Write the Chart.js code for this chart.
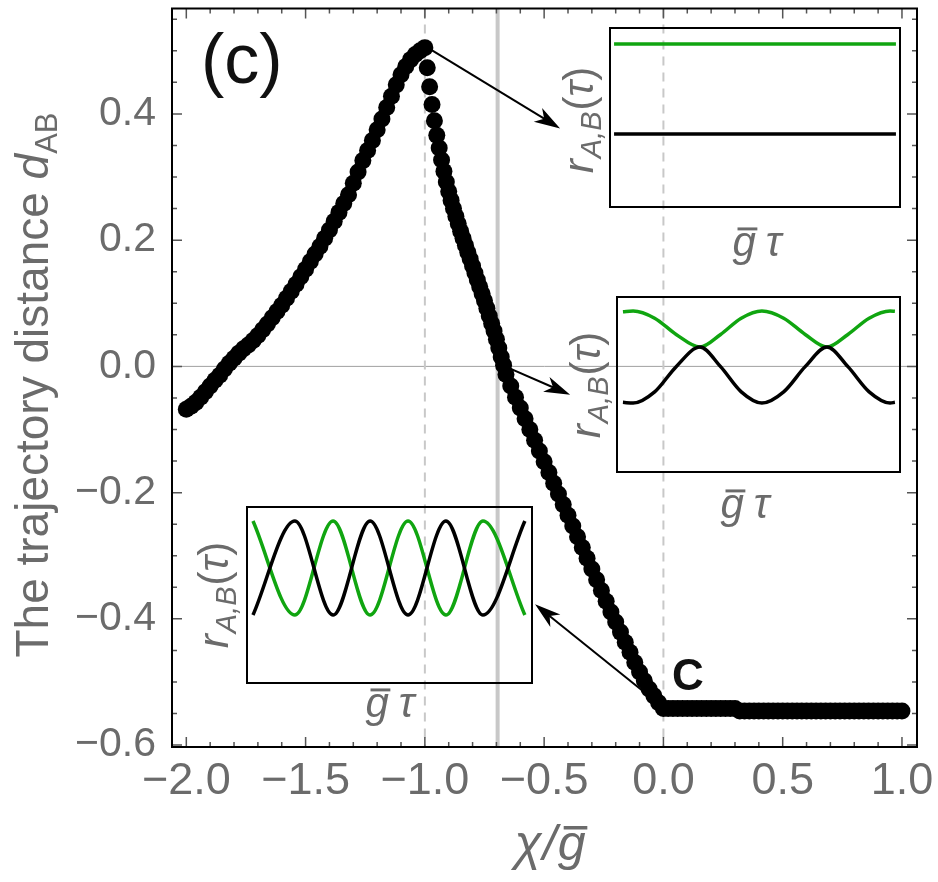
<!DOCTYPE html>
<html>
<head>
<meta charset="utf-8">
<script src="https://cdn.jsdelivr.net/npm/chart.js@4.4.1/dist/chart.umd.min.js"></script>
<style>
  html, body { margin: 0; padding: 0; background: #fff; }
  #wrap { position: relative; width: 938px; height: 882px; }
  #wrap canvas { position: absolute; }
</style>
</head>
<body>
<div id="wrap">
  <canvas id="mainChart" width="938" height="882" style="left:0;top:0"></canvas>
  <canvas id="inset1" width="294" height="183" style="left:608px;top:26px"></canvas>
  <canvas id="inset2" width="287" height="179" style="left:615px;top:295px"></canvas>
  <canvas id="inset3" width="289" height="180" style="left:245px;top:505px"></canvas>
</div>
<script>
// ---------------------------------------------
// data
// ---------------------------------------------
const chiRise = [-2.00,-1.98,-1.96,-1.94,-1.92,-1.90,-1.88,-1.86,-1.84,-1.82,-1.80,-1.78,-1.76,-1.74,-1.72,-1.70,
  -1.68,-1.66,-1.64,-1.62,-1.60,-1.58,-1.56,-1.54,-1.52,-1.50,-1.48,-1.46,-1.44,-1.42,-1.40,-1.38,-1.36,-1.34,
  -1.32,-1.30,-1.28,-1.26,-1.24,-1.22,-1.20,-1.18,-1.16,-1.14,-1.12,-1.10,-1.08,-1.06,-1.04,-1.02,-1.00];
const dRise = [-0.068,-0.063,-0.057,-0.049,-0.040,-0.031,-0.022,-0.014,-0.004,0.005,0.013,0.021,0.028,0.034,0.041,0.049,
  0.058,0.067,0.077,0.087,0.097,0.108,0.119,0.130,0.142,0.154,0.166,0.178,0.190,0.203,0.216,0.230,0.244,0.258,
  0.272,0.290,0.308,0.326,0.342,0.358,0.375,0.392,0.410,0.428,0.446,0.462,0.475,0.486,0.494,0.500,0.505];

const chiFall = [-0.99,-0.98,-0.97,-0.96,-0.95,-0.94,-0.93,-0.92,-0.91,-0.90,-0.89,-0.88,-0.87,-0.86,-0.85,-0.84,
  -0.83,-0.82,-0.81,-0.80,-0.79,-0.78,-0.77,-0.76,-0.75,-0.74,-0.73,-0.72,-0.71,-0.70,-0.69,-0.68,-0.67,
  -0.66,-0.64,-0.62,-0.60,-0.58,-0.56,-0.54,-0.52,-0.50,-0.48,-0.46,-0.44,-0.42,-0.40,-0.38,-0.36,-0.34,
  -0.32,-0.30,-0.28,-0.26,-0.24,-0.22,-0.20,-0.18,-0.16,-0.14,-0.12,-0.10,-0.08,-0.06,-0.04,-0.02,0.00];
const dFall = [0.473,0.443,0.415,0.389,0.366,0.346,0.327,0.309,0.292,0.277,0.263,0.250,0.238,0.226,0.214,0.203,
  0.192,0.181,0.170,0.159,0.148,0.137,0.126,0.115,0.104,0.092,0.080,0.068,0.056,0.043,0.029,0.015,0.002,
  -0.013,-0.031,-0.049,-0.066,-0.083,-0.100,-0.117,-0.134,-0.151,-0.168,-0.185,-0.202,-0.219,-0.236,-0.253,-0.270,-0.287,
  -0.304,-0.321,-0.338,-0.355,-0.372,-0.389,-0.405,-0.421,-0.437,-0.453,-0.469,-0.484,-0.498,-0.511,-0.522,-0.533,-0.542];

const chiFlat = [0.02,0.04,0.06,0.08,0.10,0.12,0.14,0.16,0.18,0.20,0.22,0.24,0.26,0.28,0.30,
  0.32,0.34,0.36,0.38,0.40,0.42,0.44,0.46,0.48,0.50,0.52,0.54,0.56,0.58,0.60,0.62,0.64,0.66,0.68,0.70,
  0.72,0.74,0.76,0.78,0.80,0.82,0.84,0.86,0.88,0.90,0.92,0.94,0.96,0.98,1.00];
const dFlat = [-0.542,-0.542,-0.542,-0.542,-0.542,-0.542,-0.542,-0.542,-0.542,-0.542,-0.542,-0.542,-0.542,-0.542,-0.542,
  -0.546,-0.546,-0.546,-0.546,-0.546,-0.546,-0.546,-0.546,-0.546,-0.546,-0.546,-0.546,-0.546,-0.546,-0.546,-0.546,-0.546,-0.546,-0.546,-0.546,
  -0.546,-0.546,-0.546,-0.546,-0.546,-0.546,-0.546,-0.546,-0.546,-0.546,-0.546,-0.546,-0.546,-0.546,-0.546];

const xTickVals = [-2.0, -1.5, -1.0, -0.5, 0.0, 0.5, 1.0];
const yTickVals = [-0.6, -0.4, -0.2, 0.0, 0.2, 0.4];

// reference lines
const dashedChi = [-1.0, 0.0];
const grayChi = -0.695;

// arrows: [tail chi, tail d, head chi, head d]
const arrows = [
  [-0.98, 0.503, -0.433, 0.377],
  [-0.664, 0.0, -0.391, -0.045],
  [0.005, -0.542, -0.538, -0.377]
];

// insets (tau and r in box units 0..1)
const tau1 = [0.014, 0.986];
const green1 = [0.911, 0.911];
const black1 = [0.408, 0.408];

const tau2 = [0.021, 0.057, 0.133, 0.209, 0.293, 0.366, 0.439, 0.512, 0.589, 0.665, 0.742, 0.816, 0.891, 0.965, 0.982];
const green2 = [0.916, 0.920, 0.879, 0.786, 0.714, 0.786, 0.879, 0.920, 0.879, 0.786, 0.714, 0.786, 0.879, 0.920, 0.918];
const black2 = [0.398, 0.394, 0.458, 0.602, 0.714, 0.602, 0.458, 0.394, 0.458, 0.602, 0.714, 0.602, 0.458, 0.394, 0.398];

const tau3 = [0.021, 0.168, 0.302, 0.432, 0.565, 0.698, 0.828, 0.975];
const green3 = [0.920, 0.386, 0.920, 0.386, 0.920, 0.386, 0.920, 0.386];
const black3 = [0.386, 0.920, 0.386, 0.920, 0.386, 0.920, 0.386, 0.920];

// ---------------------------------------------
// helpers
// ---------------------------------------------
const FONT = '"Liberation Sans", Arial, sans-serif';
const GRAY = '#6b6b6b';
const GREEN = '#10a510';

const toXY = (xs, ys) => xs.map((x, i) => ({ x: x, y: ys[i] }));

function fmt(v) {
    const s = Math.abs(v).toFixed(1);
    return v < -1e-9 ? '\u2212' + s : s;
}

// draws a list of text runs centred on cx at baseline by
function drawRuns(ctx, runs, cx, by) {
    let total = 0;
    runs.forEach(r => { ctx.font = r.font; r.w = ctx.measureText(r.t).width; total += r.w + (r.gap || 0); });
    let x = cx - total / 2;
    runs.forEach(r => {
        ctx.font = r.font;
        ctx.fillText(r.t, x, by + (r.dy || 0));
        if (r.bar) {
            ctx.fillRect(x + r.size * 0.12, by - r.size * 0.68, r.w * 0.85, r.size * 0.07);
        }
        x += r.w + (r.gap || 0);
    });
}

function rLabel(ctx, bx, cy) {
    ctx.save();
    ctx.translate(bx, cy);
    ctx.rotate(-Math.PI / 2);
    ctx.fillStyle = GRAY;
    ctx.textAlign = 'left';
    ctx.textBaseline = 'alphabetic';
    drawRuns(ctx, [
        { t: 'r', font: 'italic 42px ' + FONT, gap: 1 },
        { t: 'A,B', font: 'italic 29px ' + FONT, dy: 8, gap: 1 },
        { t: '(', font: '42px ' + FONT },
        { t: '\u03C4', font: 'italic 42px ' + FONT },
        { t: ')', font: '42px ' + FONT }
    ], 0, 0);
    ctx.restore();
}

function gtLabel(ctx, cx, by) {
    ctx.save();
    ctx.fillStyle = GRAY;
    ctx.textAlign = 'left';
    ctx.textBaseline = 'alphabetic';
    drawRuns(ctx, [
        { t: 'g', font: 'italic 42px ' + FONT, bar: true, size: 42, gap: 10 },
        { t: '\u03C4', font: 'italic 42px ' + FONT }
    ], cx, by);
    ctx.restore();
}

function drawArrow(ctx, x1, y1, x2, y2) {
    const a = Math.atan2(y2 - y1, x2 - x1), L = 26, W = 8;
    const c = Math.cos(a), s = Math.sin(a);
    ctx.beginPath();
    ctx.moveTo(x1, y1);
    ctx.lineTo(x2 - L * 0.7 * c, y2 - L * 0.7 * s);
    ctx.stroke();
    ctx.beginPath();
    ctx.moveTo(x2, y2);
    ctx.lineTo(x2 - L * c + W * s, y2 - L * s - W * c);
    ctx.lineTo(x2 - L * 0.72 * c, y2 - L * 0.72 * s);
    ctx.lineTo(x2 - L * c - W * s, y2 - L * s + W * c);
    ctx.closePath();
    ctx.fill();
}

// ---------------------------------------------
// main chart decorations
// ---------------------------------------------
const framePlugin = {
    id: 'frame',
    beforeDatasetsDraw(chart) {
        const ctx = chart.ctx, ca = chart.chartArea;
        const X = chart.scales.x, Y = chart.scales.y;
        ctx.save();
        // zero line
        ctx.strokeStyle = '#a0a0a0';
        ctx.lineWidth = 1;
        ctx.beginPath();
        ctx.moveTo(ca.left, Y.getPixelForValue(0));
        ctx.lineTo(ca.right, Y.getPixelForValue(0));
        ctx.stroke();
        // gray solid line
        ctx.strokeStyle = '#c8c8c8';
        ctx.lineWidth = 4;
        ctx.beginPath();
        ctx.moveTo(X.getPixelForValue(grayChi), ca.top);
        ctx.lineTo(X.getPixelForValue(grayChi), ca.bottom);
        ctx.stroke();
        // dashed lines
        ctx.lineWidth = 2;
        ctx.setLineDash([9, 7]);
        dashedChi.forEach(v => {
            ctx.beginPath();
            ctx.moveTo(X.getPixelForValue(v), ca.top);
            ctx.lineTo(X.getPixelForValue(v), ca.bottom);
            ctx.stroke();
        });
        ctx.restore();
    },
    afterDatasetsDraw(chart) {
        const ctx = chart.ctx, ca = chart.chartArea;
        const X = chart.scales.x, Y = chart.scales.y;
        ctx.save();

        // inward ticks
        ctx.strokeStyle = '#555';
        ctx.lineWidth = 1.5;
        for (let i = 0; i <= 30; i++) {
            const v = -2.0 + i * 0.1;
            const len = (i % 5 === 0) ? 10 : 5;
            const p = X.getPixelForValue(v);
            ctx.beginPath();
            ctx.moveTo(p, ca.bottom); ctx.lineTo(p, ca.bottom - len);
            ctx.moveTo(p, ca.top); ctx.lineTo(p, ca.top + len);
            ctx.stroke();
        }
        for (let i = 0; i <= 23; i++) {
            const v = -0.6 + i * 0.05;
            const len = (i % 4 === 0) ? 10 : 5;
            const p = Y.getPixelForValue(v);
            ctx.beginPath();
            ctx.moveTo(ca.left, p); ctx.lineTo(ca.left + len, p);
            ctx.moveTo(ca.right, p); ctx.lineTo(ca.right - len, p);
            ctx.stroke();
        }

        // frame
        ctx.strokeStyle = '#000';
        ctx.lineWidth = 2;
        ctx.strokeRect(ca.left, ca.top, ca.right - ca.left, ca.bottom - ca.top);

        // arrows
        ctx.strokeStyle = '#000';
        ctx.fillStyle = '#000';
        ctx.lineWidth = 2;
        arrows.forEach(a => {
            drawArrow(ctx, X.getPixelForValue(a[0]), Y.getPixelForValue(a[1]),
                X.getPixelForValue(a[2]), Y.getPixelForValue(a[3]));
        });

        // panel letter and point label
        ctx.textAlign = 'left';
        ctx.textBaseline = 'alphabetic';
        ctx.fillStyle = '#111';
        ctx.font = '70px ' + FONT;
        ctx.fillText('(c)', 201, 83);
        ctx.font = 'bold 44px ' + FONT;
        ctx.fillText('C', 672, 690);

        // y axis title
        ctx.save();
        ctx.translate(48, 385);
        ctx.rotate(-Math.PI / 2);
        ctx.fillStyle = GRAY;
        drawRuns(ctx, [
            { t: 'The trajectory distance ', font: '46px ' + FONT },
            { t: 'd', font: 'italic 46px ' + FONT },
            { t: 'AB', font: '31px ' + FONT, dy: 9 }
        ], 0, 0);
        ctx.restore();

        // x axis title
        ctx.fillStyle = GRAY;
        drawRuns(ctx, [
            { t: '\u03C7', font: 'italic 50px ' + FONT, gap: 1 },
            { t: '/', font: 'italic 50px ' + FONT, gap: 1 },
            { t: 'g', font: 'italic 50px ' + FONT, bar: true, size: 50 }
        ], 550, 860);

        // inset axis labels
        rLabel(ctx, 593, 120);
        rLabel(ctx, 600, 385);
        rLabel(ctx, 228, 595);
        gtLabel(ctx, 757, 256);
        gtLabel(ctx, 745, 518);
        gtLabel(ctx, 390, 717);

        ctx.restore();
    }
};

new Chart(document.getElementById('mainChart'), {
    type: 'scatter',
    data: {
        datasets: [{
            data: toXY(chiRise, dRise).concat(toXY(chiFall, dFall), toXY(chiFlat, dFlat)),
            backgroundColor: '#000',
            borderWidth: 0,
            pointRadius: 8.5
        }]
    },
    options: {
        responsive: false,
        animation: false,
        devicePixelRatio: 1,
        layout: { padding: { top: 2, right: 21, left: 0, bottom: 0 } },
        plugins: { legend: { display: false }, tooltip: { enabled: false } },
        scales: {
            x: {
                type: 'linear', min: -2.06, max: 1.063,
                grid: { display: false, drawTicks: false },
                border: { display: false },
                ticks: { padding: 8, color: GRAY, maxRotation: 0, font: { family: FONT, size: 45 }, callback: v => fmt(v) },
                afterBuildTicks: s => { s.ticks = xTickVals.map(v => ({ value: v })); },
                afterFit: s => { s.height = 135; s.paddingLeft = 0; s.paddingRight = 0; }
            },
            y: {
                type: 'linear', min: -0.603, max: 0.567,
                grid: { display: false, drawTicks: false },
                border: { display: false },
                ticks: { padding: 16, color: GRAY, font: { family: FONT, size: 41 }, callback: v => fmt(v) },
                afterBuildTicks: s => { s.ticks = yTickVals.map(v => ({ value: v })); },
                afterFit: s => { s.width = 172; s.paddingTop = 0; s.paddingBottom = 0; }
            }
        }
    },
    plugins: [framePlugin]
});

// ---------------------------------------------
// insets
// ---------------------------------------------
const boxPlugin = {
    id: 'box',
    afterDatasetsDraw(chart) {
        const ctx = chart.ctx, ca = chart.chartArea;
        ctx.save();
        ctx.strokeStyle = '#000';
        ctx.lineWidth = 2;
        ctx.strokeRect(ca.left, ca.top, ca.right - ca.left, ca.bottom - ca.top);
        ctx.restore();
    }
};

function makeInset(id, greenPts, blackPts) {
    new Chart(document.getElementById(id), {
        type: 'line',
        data: {
            datasets: [
                { data: blackPts, borderColor: '#000', borderWidth: 3.5, pointRadius: 0, cubicInterpolationMode: 'monotone' },
                { data: greenPts, borderColor: GREEN, borderWidth: 3.5, pointRadius: 0, cubicInterpolationMode: 'monotone' }
            ]
        },
        options: {
            responsive: false,
            animation: false,
            devicePixelRatio: 1,
            layout: { padding: 2 },
            plugins: { legend: { display: false }, tooltip: { enabled: false } },
            scales: {
                x: { type: 'linear', min: 0, max: 1, display: false },
                y: { type: 'linear', min: 0, max: 1, display: false }
            }
        },
        plugins: [boxPlugin]
    });
}

makeInset('inset1', toXY(tau1, green1), toXY(tau1, black1));
makeInset('inset2', toXY(tau2, green2), toXY(tau2, black2));
makeInset('inset3', toXY(tau3, green3), toXY(tau3, black3));
</script>
</body>
</html>
